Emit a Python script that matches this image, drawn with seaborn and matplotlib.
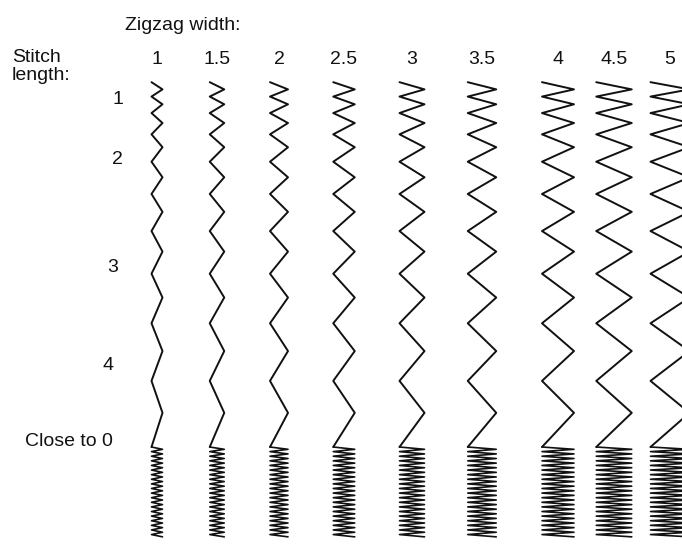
import matplotlib
matplotlib.use("Agg")
import matplotlib.pyplot as plt
import numpy as np
import pandas as pd
import seaborn as sns

# --- data -----------------------------------------------------------------
zigzag_widths = [1, 1.5, 2, 2.5, 3, 3.5, 4, 4.5, 5]
width_labels = ["1", "1.5", "2", "2.5", "3", "3.5", "4", "4.5", "5"]
stitch_lengths = [1, 2, 3, 4]
row_labels = ["1", "2", "3", "4"]
close_label = "Close to 0"
satin_length = 0.32

# --- layout (pixel-ish canvas, y grows downward) --------------------------
col_x = [157, 217, 279, 344, 412, 482, 558, 614, 670]
row_y = [100, 160, 267, 365]
row_label_x = [118, 117, 113, 108]
top_y = 80
satin_top = 447
satin_bottom = 538
px_mm_x = 7.0
px_mm_y = 7.2


def stitch_len(y):
    # stitch length set on the dial at height y
    if y > row_y[-1]:
        return stitch_lengths[-1] + (y - row_y[-1]) / 110
    return np.interp(y, row_y, stitch_lengths)


def zigzag_points(cx, width):
    # sewn upward from the satin block so the bottom ends on the left
    hw = (width * px_mm_x + 4) / 2
    y = satin_top
    side = -1
    pts = [(cx + side * hw, y)]
    while True:
        ny = y - stitch_len(y) * px_mm_y
        if ny < top_y:
            break
        y = ny
        side = -side
        pts.append((cx + side * hw, y))
    return pts[::-1]


def satin_points(cx, width):
    hw = (width * px_mm_x + 4) / 2
    pts = []
    y = satin_top
    side = -1
    while y <= satin_bottom:
        pts.append((cx + side * hw, y))
        side = -side
        y += satin_length * px_mm_y
    return pts


zz_rows, satin_rows = [], []
for i, (w, cx) in enumerate(zip(zigzag_widths, col_x)):
    for k, (x, y) in enumerate(zigzag_points(cx, w)):
        zz_rows.append({"col": i, "order": k, "x": x, "y": y})
    for k, (x, y) in enumerate(satin_points(cx, w)):
        satin_rows.append({"col": i, "order": k, "x": x, "y": y})
zz = pd.DataFrame(zz_rows)
satin = pd.DataFrame(satin_rows)

sns.set_theme(style="white")
plt.rcParams["font.family"] = ["Liberation Sans", "DejaVu Sans"]

fig = plt.figure(figsize=(6.82, 5.44), dpi=100)
ax = fig.add_axes([0, 0, 1, 1])

sns.lineplot(data=zz, x="x", y="y", units="col", estimator=None, sort=False,
             color="#111111", lw=1.4, ax=ax, legend=False)
sns.lineplot(data=satin, x="x", y="y", units="col", estimator=None, sort=False,
             color="#111111", lw=1.2, ax=ax, legend=False)

txt = dict(color="#111111", fontsize=14)
ax.text(125, 25, "Zigzag width:", ha="left", va="center", **txt)
ax.text(12, 57, "Stitch", ha="left", va="center", **txt)
ax.text(12, 76, "length:", ha="left", va="center", **txt)
for lab, cx in zip(width_labels, col_x):
    ax.text(cx, 60, lab, ha="center", va="center", **txt)
for lab, x, y in zip(row_labels, row_label_x, row_y):
    ax.text(x, y, lab, ha="center", va="center", **txt)
ax.text(113, 442, close_label, ha="right", va="center", **txt)

ax.set_xlim(0, 682)
ax.set_ylim(544, 0)
ax.set_axis_off()

fig.savefig("out.png", dpi=100)
